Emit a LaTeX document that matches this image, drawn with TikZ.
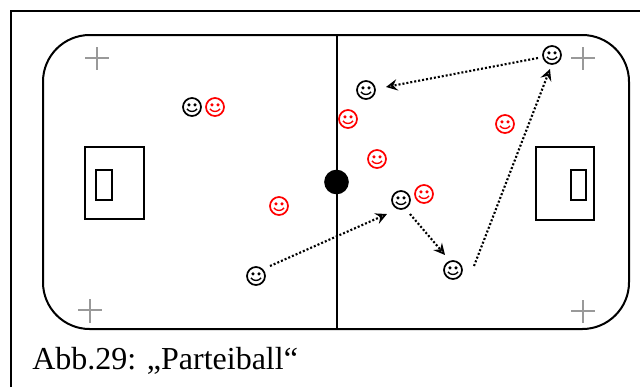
\documentclass[tikz,border=0pt]{standalone}
\usepackage{fontspec}
\setmainfont{Liberation Serif}
\usetikzlibrary{arrows.meta}

\tikzset{
	face/.style = {circle, draw=#1, line width=1.3pt, minimum size=13.5pt, inner sep=0pt, path picture={
		\fill [#1] (path picture bounding box.center) ++(-2.3pt, 1.6pt) circle (1.35pt);
		\fill [#1] (path picture bounding box.center) ++(2.3pt, 1.6pt) circle (1.35pt);
		\draw [#1, line width=1pt] (path picture bounding box.center) ++(-3.8pt, -1.4pt) .. controls +(1.5pt, -2.6pt) and +(-1.5pt, -2.6pt) .. ++(7.6pt, 0pt);
	}},
	pass/.style = {line width=1.6pt, dash pattern=on 1.5pt off 1.5pt, -{Stealth[length=8.5pt, width=8.5pt, inset=3pt, open, line width=1.3pt]}},
	plan/.style = {line width=1.5pt},
	cross/.style = {gray!80, line width=0.8pt}
}

\begin{document}
\begin{tikzpicture}[x=0.75pt, y=-0.75pt]
	\useasboundingbox (0, 0) rectangle (640, 387);
	\coordinate (frameA) at (11, 387);
	\coordinate (frameB) at (11, 11);
	\coordinate (frameC) at (640, 11);
	\draw [plan] (frameA)--(frameB)--(frameC);
	\draw [plan, rounded corners=35pt] (43, 35) rectangle (629, 329);
	\coordinate (midTop) at (337, 35);
	\coordinate (midBottom) at (337, 329);
	\draw [plan] (midTop)--(midBottom);
	\node (ball) at (336.5, 182) [circle, fill=black, minimum size=18.5pt, inner sep=0pt] {};
	% goals
	\draw [plan] (85, 147) rectangle (144, 219);
	\draw [plan] (96, 170) rectangle (112, 200);
	\draw [plan] (536, 147) rectangle (594, 220);
	\draw [plan] (571, 170) rectangle (586, 200);
	% corner marks
	\draw [cross] (85, 58)--(109, 58) (97, 47)--(97, 70);
	\draw [cross] (571, 58)--(595, 58) (583, 47)--(583, 70);
	\draw [cross] (78, 310)--(102, 310) (90, 299)--(90, 323);
	\draw [cross] (571, 311)--(595, 311) (583, 300)--(583, 323);
	% players
	\node (blackA) at (192, 107) [face=black] {};
	\node (blackB) at (366, 90) [face=black] {};
	\node (blackC) at (552, 55) [face=black] {};
	\node (blackD) at (401, 200) [face=black] {};
	\node (blackE) at (453, 270) [face=black] {};
	\node (blackF) at (256, 276) [face=black] {};
	\node (redA) at (215, 107) [face=red] {};
	\node (redB) at (348, 119) [face=red] {};
	\node (redC) at (377, 159) [face=red] {};
	\node (redD) at (505, 124) [face=red] {};
	\node (redE) at (424, 194) [face=red] {};
	\node (redF) at (279, 206) [face=red] {};
	% passes
	\coordinate (passAs) at (270, 266);
	\coordinate (passAe) at (387, 214);
	\coordinate (passBs) at (410, 214);
	\coordinate (passBe) at (445, 255);
	\coordinate (passCs) at (474, 266);
	\coordinate (passCe) at (550, 69);
	\coordinate (passDs) at (538, 58);
	\coordinate (passDe) at (386, 87);
	\draw [pass] (passAs)--(passAe);
	\draw [pass] (passBs)--(passBe);
	\draw [pass] (passCs)--(passCe);
	\draw [pass] (passDs)--(passDe);
	\node (caption) at (32, 361) [anchor=west, inner sep=0pt, font=\fontsize{24pt}{28pt}\selectfont] {Abb.29: „Parteiball“};
\end{tikzpicture}
\end{document}
